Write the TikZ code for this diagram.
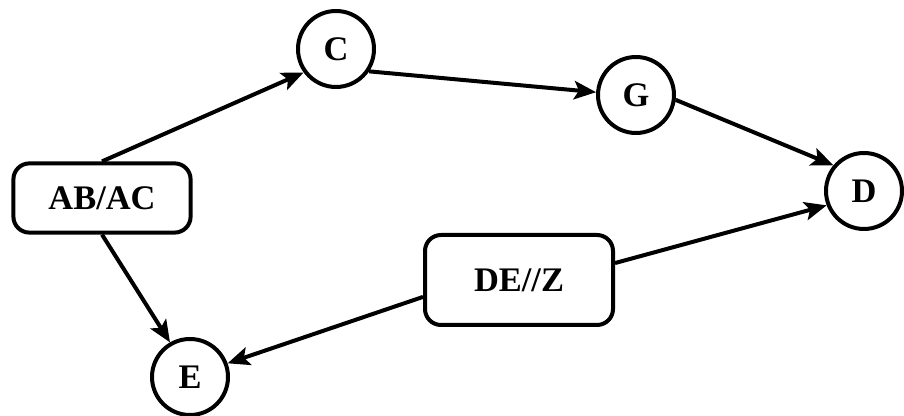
\documentclass[tikz,border=0pt]{standalone}
\usepackage{fontspec}
\setmainfont{Liberation Serif}
\usetikzlibrary{arrows.meta}
\begin{document}
\begin{tikzpicture}[>={Stealth[length=5.5mm,width=4.6mm,inset=1.2mm]},
  every node/.style={font=\bfseries\fontsize{24.5}{29}\selectfont},
  state/.style={draw,circle,line width=0.1cm,minimum size=1.9cm,inner sep=0pt},
  box/.style={draw,rounded corners=0.4cm,line width=0.1cm,inner sep=0pt},
  link/.style={->,line width=0.1cm}]
\useasboundingbox (0,0) rectangle (22.6,10.4);

\node[box,minimum width=4.43cm,minimum height=1.73cm] (abac) at (2.55,5.45) {AB/AC};
\node[box,minimum width=4.7cm,minimum height=2.25cm] (dez) at (12.975,3.4) {DE//Z};

\node[state] (c) at (8.4,9.175) {C};
\node[state] (g) at (15.9,8.025) {G};
\node[state] (d) at (21.6,5.625) {D};
\node[state] (e) at (4.75,0.975) {E};

\draw[link] (abac.north) -- (c.216);
\draw[link] (c.-34) -- (g.176);
\draw[link] (g.-7) -- (d.140);
\draw[link] (dez.10) -- (d.201);
\draw[link] (dez.190) -- (e.20);
\draw[link] (abac.south) -- (e.120);
\end{tikzpicture}
\end{document}
